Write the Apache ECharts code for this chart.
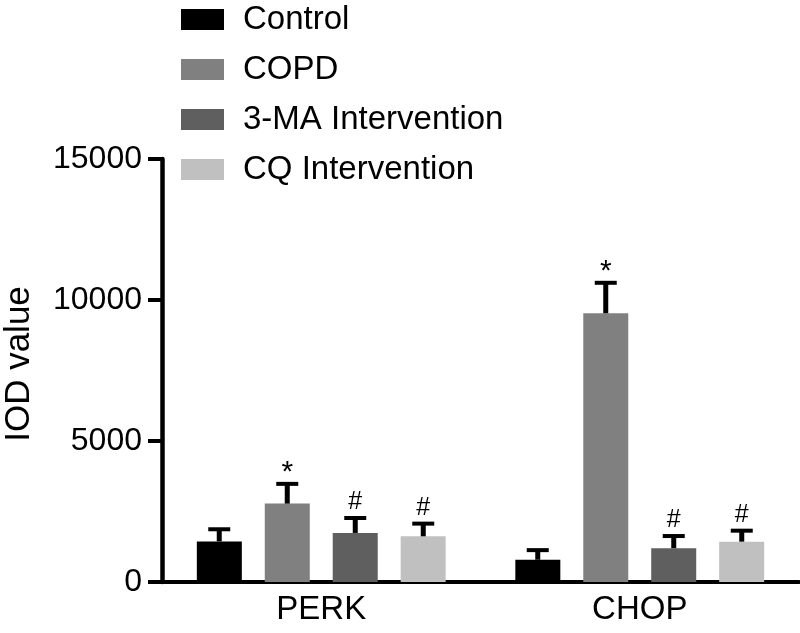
<!DOCTYPE html>
<html>
<head>
<meta charset="utf-8">
<script src="https://cdn.jsdelivr.net/npm/echarts@6/dist/echarts.min.js"></script>
<style>
  html, body { margin: 0; padding: 0; background: #fff; }
  #iod-chart { width: 800px; height: 633px; }
</style>
</head>
<body>
<div id="iod-chart"></div>
<script>
var categories = ['PERK', 'CHOP'];
var groupNames = ['Control', 'COPD', '3-MA Intervention', 'CQ Intervention'];
var groupColors = ['#000000', '#808080', '#5f5f5f', '#c0c0c0'];

var controlMean = [1440, 790];
var controlErr = [430, 340];
var copdMean = [2780, 9530];
var copdErr = [700, 1080];
var maMean = [1740, 1200];
var maErr = [530, 430];
var cqMean = [1620, 1430];
var cqErr = [450, 390];

var controlSig = ['', ''];
var copdSig = ['*', '*'];
var maSig = ['#', '#'];
var cqSig = ['#', '#'];

var yTicks = [0, 5000, 10000, 15000];

var means = [controlMean, copdMean, maMean, cqMean];
var errs = [controlErr, copdErr, maErr, cqErr];
var sigs = [controlSig, copdSig, maSig, cqSig];

var font = '"Liberation Sans", Arial, sans-serif';
var barW = 45;
var barGapPx = 23;

function errorSeries(k) {
	var data = categories.map(function (c, i) {
		return [i, means[k][i], errs[k][i]];
	});
	return {
		name: 'err' + k,
		type: 'custom',
		z: 5,
		silent: true,
		data: data,
		renderItem: function (params, api) {
			var idx = api.value(0);
			var off = (k - 1.5) * (barW + barGapPx);
			var base = api.coord([idx, api.value(1)]);
			var top = api.coord([idx, api.value(1) + api.value(2)]);
			var x = base[0] + off;
			var sign = sigs[k][params.dataIndex];
			var children = [{
				type: 'line',
				shape: { x1: x, y1: base[1], x2: x, y2: top[1] },
				style: { stroke: '#000', lineWidth: 5 }
			}, {
				type: 'line',
				shape: { x1: x - 11, y1: top[1], x2: x + 11, y2: top[1] },
				style: { stroke: '#000', lineWidth: 4 }
			}];
			if (sign) {
				var big = sign === '*';
				children.push({
					type: 'text',
					x: x,
					y: top[1] - (big ? -4 : 3),
					style: {
						text: sign,
						fill: '#000',
						font: (big ? '30px ' : '25px ') + font,
						align: 'center',
						verticalAlign: 'bottom'
					}
				});
			}
			return { type: 'group', children: children };
		}
	};
}

var series = groupNames.map(function (name, k) {
	return {
		name: name,
		type: 'bar',
		barWidth: barW,
		barGap: (barGapPx / barW * 100).toFixed(0) + '%',
		itemStyle: { color: groupColors[k] },
		data: means[k]
	};
});
for (var k = 0; k < groupNames.length; k++) {
	series.push(errorSeries(k));
}

var chart = echarts.init(document.getElementById('iod-chart'));
var option = {
	animation: false,
	textStyle: { fontFamily: font },
	legend: {
		data: groupNames,
		orient: 'vertical',
		left: 176,
		top: -2,
		icon: 'rect',
		itemWidth: 43,
		itemHeight: 21,
		itemGap: 17,
		textStyle: {
			fontSize: 33,
			lineHeight: 32,
			color: '#000',
			fontFamily: font,
			padding: [0, 0, 0, 14]
		}
	},
	grid: {
		left: 162,
		right: 1,
		top: 159,
		bottom: 51,
		outerBounds: { left: -60, right: -60, top: -60, bottom: -60 }
	},
	xAxis: {
		type: 'category',
		data: categories,
		axisLine: { lineStyle: { color: '#000', width: 4 } },
		axisTick: { alignWithLabel: true, length: 10, lineStyle: { color: '#000', width: 4 } },
		axisLabel: { fontSize: 33, color: '#000', margin: 11, fontFamily: font }
	},
	yAxis: {
		type: 'value',
		min: yTicks[0],
		max: yTicks[yTicks.length - 1],
		interval: yTicks[1] - yTicks[0],
		name: 'IOD value',
		nameLocation: 'middle',
		nameGap: 125,
		nameTextStyle: { fontSize: 35, color: '#000', fontFamily: font, padding: [0, 0, 0, 13] },
		splitLine: { show: false },
		axisLine: { show: true, lineStyle: { color: '#000', width: 4.5 } },
		axisTick: { show: true, length: 14, lineStyle: { color: '#000', width: 4 } },
		axisLabel: {
			fontSize: 32,
			color: '#000',
			margin: 20,
			fontFamily: font,
			formatter: function (v) { return String(v); }
		}
	},
	series: series
};
chart.setOption(option);
</script>
</body>
</html>
